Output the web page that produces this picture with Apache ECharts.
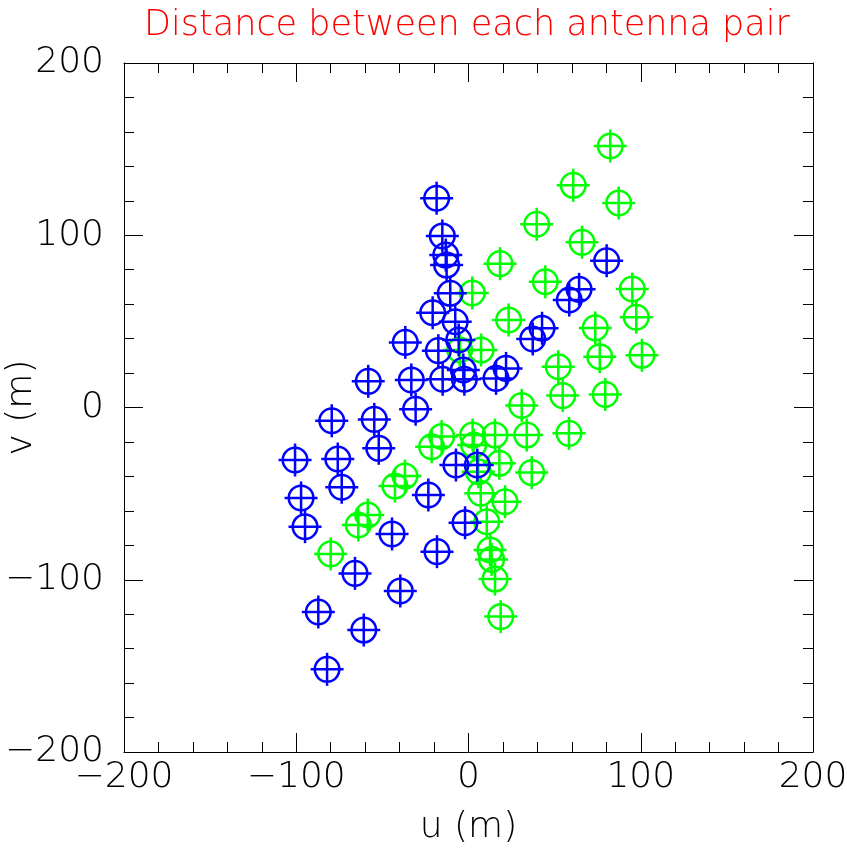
<!DOCTYPE html>
<html>
<head>
<meta charset="utf-8">
<script src="https://cdn.jsdelivr.net/npm/echarts@6/dist/echarts.min.js"></script>
<style>
html,body{margin:0;padding:0;background:#fff;}
#chart{width:847px;height:849px;}
</style>
</head>
<body>
<div id="chart"></div>
<script>
// Baseline (u, v) points in metres
const blueU = [-18.5,-15.2,-13.2,-12.7,-10.6,-20.8,-7.7,-36.7,-5.7,-17.5,-3.0,-15.0,-2.4,-33.2,-58.2,-30.7,-79.4,-54.7,-52.1,-100.7,-75.9,-73.6,-97.2,-94.9,-44.4,-23.3,-7.3,5.1,-2.0,-18.3,-65.9,-39.6,-87.2,-60.8,-82.1,80.2,64.2,58.5,42.7,37.3,21.8,16.0];
const blueV = [121.5,99.6,88.5,82.7,66.3,55.0,49.8,37.8,39.2,33.0,21.8,16.4,16.4,16.0,15.2,-1.0,-7.7,-6.9,-23.7,-30.5,-29.9,-46.3,-52.5,-69.2,-73.4,-50.8,-33.4,-33.4,-66.9,-83.7,-96.3,-106.5,-118.7,-129.2,-152.0,85.2,68.6,62.4,46.0,39.8,22.7,16.9];
const greenU = [18.7,15.4,13.4,12.5,10.6,21.2,7.1,36.7,5.7,17.9,3.0,15.4,2.4,33.8,58.3,30.9,79.4,54.7,52.1,100.7,76.2,73.6,97.4,95.1,44.6,23.3,7.3,-5.1,2.2,18.3,65.9,39.6,87.2,60.8,82.3,-80.0,-64.0,-58.5,-42.7,-36.9,-21.4,-15.6];
const greenV = [-121.4,-99.6,-88.2,-82.7,-66.3,-54.7,-49.8,-37.8,-37.3,-32.4,-21.8,-16.0,-16.0,-16.0,-15.0,1.2,7.6,6.9,23.7,30.3,29.5,46.2,52.4,68.8,73.0,50.8,33.4,33.4,66.5,83.5,95.9,106.4,118.7,129.0,151.8,-85.0,-68.2,-62.4,-45.6,-39.8,-22.8,-16.9];

const titleText = 'Distance between each antenna pair';
const xName = 'u (m)';
const yName = 'v (m)';
const axisMin = -200, axisMax = 200, axisStep = 100;

const FONT = '"DejaVu Sans", sans-serif';
const pairs = (us, vs) => us.map((u, i) => [u, vs[i]]);

function marker(color) {
  return function (params, api) {
    const p = api.coord([api.value(0), api.value(1)]);
    const r = 12.3, h = 16.5, lw = 2.5;
    const st = { stroke: color, lineWidth: lw, fill: null };
    return {
      type: 'group',
      children: [
        { type: 'circle', shape: { cx: p[0], cy: p[1], r: r }, style: { stroke: color, lineWidth: lw, fill: 'none' } },
        { type: 'line', shape: { x1: p[0] - h, y1: p[1], x2: p[0] + h, y2: p[1] }, style: st },
        { type: 'line', shape: { x1: p[0], y1: p[1] - h, x2: p[0], y2: p[1] + h }, style: st }
      ]
    };
  };
}

const fmt = v => (v < 0 ? '\u2212' + Math.abs(v) : String(v));
const axisLine = { show: true, onZero: false, lineStyle: { color: '#000', width: 1 } };
const tickMaj = { show: true, inside: true, length: 19, lineStyle: { color: '#000', width: 1 } };
const tickMin = { show: true, splitNumber: 5, length: 10, lineStyle: { color: '#000', width: 1 } };
const lbl = { show: true, color: '#000', fontFamily: FONT, fontWeight: 200, fontSize: 36, formatter: fmt };

const chart = echarts.init(document.getElementById('chart'), null, { renderer: 'canvas' });
chart.setOption({
  backgroundColor: '#fff',
  animation: false,
  title: {
    text: titleText, left: 462, textAlign: 'center', top: 3,
    textStyle: { color: '#ff0000', fontFamily: FONT, fontWeight: 200, fontSize: 35 }
  },
  grid: { left: 124, top: 63, width: 689, height: 689, containLabel: false, outerBoundsMode: 'none' },
  xAxis: [
    { type: 'value', position: 'bottom', min: axisMin, max: axisMax, interval: axisStep,
      axisLine: axisLine, axisTick: tickMaj, minorTick: tickMin, splitLine: { show: false },
      axisLabel: Object.assign({}, lbl, { margin: 8 }),
      name: xName, nameLocation: 'middle', nameGap: 58, nameMoveOverlap: false,
      nameTextStyle: { color: '#000', fontFamily: FONT, fontWeight: 200, fontSize: 36 } },
    { type: 'value', position: 'top', min: axisMin, max: axisMax, interval: axisStep,
      axisLine: axisLine, axisTick: tickMaj, minorTick: tickMin, splitLine: { show: false },
      axisLabel: { show: false } }
  ],
  yAxis: [
    { type: 'value', position: 'left', min: axisMin, max: axisMax, interval: axisStep,
      axisLine: axisLine, axisTick: tickMaj, minorTick: tickMin, splitLine: { show: false },
      axisLabel: Object.assign({}, lbl, { margin: 20 }),
      name: yName, nameLocation: 'middle', nameGap: 84, nameRotate: 90, nameMoveOverlap: false,
      nameTextStyle: { color: '#000', fontFamily: FONT, fontWeight: 200, fontSize: 36 } },
    { type: 'value', position: 'right', min: axisMin, max: axisMax, interval: axisStep,
      axisLine: axisLine, axisTick: tickMaj, minorTick: tickMin, splitLine: { show: false },
      axisLabel: { show: false } }
  ],
  series: [
    { type: 'custom', name: 'green', xAxisIndex: 0, yAxisIndex: 0, data: pairs(greenU, greenV), renderItem: marker('#00ff00'), silent: true },
    { type: 'custom', name: 'blue', xAxisIndex: 0, yAxisIndex: 0, data: pairs(blueU, blueV), renderItem: marker('#0000ff'), silent: true }
  ]
});
</script>
</body>
</html>
